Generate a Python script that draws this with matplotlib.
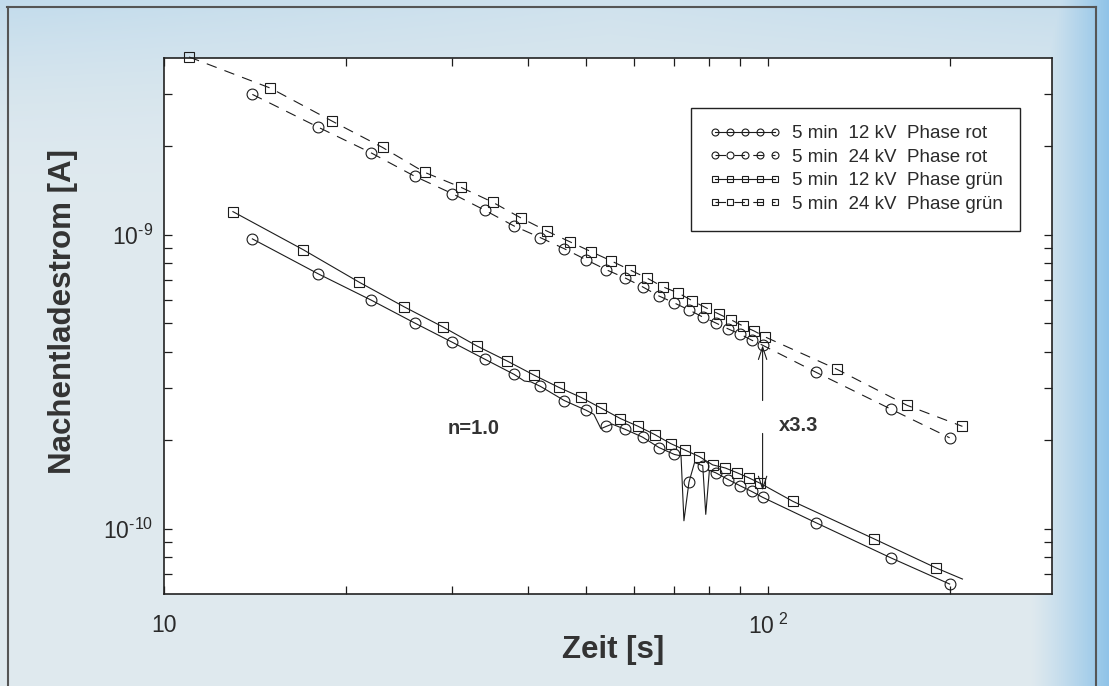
import matplotlib
matplotlib.use('Agg')
import matplotlib.pyplot as plt
import numpy as np
from matplotlib.lines import Line2D
from matplotlib.ticker import FixedLocator, FuncFormatter, NullFormatter

plt.rcParams['font.family'] = ['Liberation Sans', 'DejaVu Sans']
plt.rcParams['mathtext.fontset'] = 'custom'
plt.rcParams['mathtext.rm'] = 'Liberation Sans'
plt.rcParams['mathtext.it'] = 'Liberation Sans:italic'
plt.rcParams['mathtext.bf'] = 'Liberation Sans:bold'
plt.rcParams['mathtext.default'] = 'regular'

# --- data (time in s, current in nA) ---
# Phase rot, 24 kV (upper, dashed, circles)
t_rot24 = [14, 18, 22, 26, 30, 34, 38, 42, 46, 50, 54, 58, 62, 66, 70, 74, 78, 82, 86, 90, 94, 98, 120, 160, 200]
i_rot24 = [3.00, 2.32, 1.90, 1.58, 1.38, 1.21, 1.07, 0.977, 0.896, 0.822, 0.760, 0.713, 0.665, 0.619, 0.586,
           0.555, 0.525, 0.501, 0.478, 0.459, 0.438, 0.421, 0.341, 0.255, 0.204]

# Phase gruen, 24 kV (upper, dashed, squares)
t_gr24 = [11, 15, 19, 23, 27, 31, 35, 39, 43, 47, 51, 55, 59, 63, 67, 71, 75, 79, 83, 87, 91, 95, 99, 130, 170, 210]
i_gr24 = [4.02, 3.15, 2.43, 1.98, 1.63, 1.45, 1.29, 1.14, 1.03, 0.946, 0.875, 0.815, 0.760, 0.713, 0.665,
          0.634, 0.596, 0.564, 0.537, 0.513, 0.489, 0.470, 0.449, 0.349, 0.263, 0.223]

# Phase rot, 12 kV (lower, solid, circles)
t_rot12 = [14, 18, 22, 26, 30, 34, 38, 42, 46, 50, 54, 58, 62, 66, 70, 74, 78, 82, 86, 90, 94, 98, 120, 160, 200]
i_rot12 = [0.968, 0.736, 0.600, 0.501, 0.431, 0.377, 0.335, 0.305, 0.273, 0.253, 0.223, 0.218, 0.205, 0.189,
           0.179, 0.144, 0.164, 0.155, 0.147, 0.140, 0.134, 0.128, 0.105, 0.0796, 0.0649]
# extra trace points between markers (wiggle and the two spikes)
t_rot12_trace = [39.5, 40.5, 51.5, 52.9, 55.2, 71.8, 72.6, 75.6, 78.9, 80.0]
i_rot12_trace = [0.318, 0.316, 0.245, 0.219, 0.227, 0.177, 0.1065, 0.168, 0.112, 0.158]

# Phase gruen, 12 kV (lower, solid, squares)
t_gr12 = [13, 17, 21, 25, 29, 33, 37, 41, 45, 49, 53, 57, 61, 65, 69, 73, 77, 81, 85, 89, 93, 97, 110, 150, 190]
i_gr12 = [1.198, 0.889, 0.691, 0.568, 0.485, 0.418, 0.372, 0.333, 0.303, 0.280, 0.257, 0.237, 0.223, 0.209,
          0.195, 0.185, 0.176, 0.165, 0.161, 0.155, 0.149, 0.143, 0.124, 0.0924, 0.0736]
t_gr12_trace = [210]
i_gr12_trace = [0.0675]

labels = ['5 min  12 kV  Phase rot', '5 min  24 kV  Phase rot',
          '5 min  12 kV  Phase grün', '5 min  24 kV  Phase grün']

ink = '#1c1c1c'
dash = (0, (9.5, 7.5))


def with_trace(t, i, t_x, i_x):
    tt = np.concatenate([t, t_x])
    ii = np.concatenate([i, i_x]) * 1e-9
    mask = np.concatenate([np.ones(len(t), bool), np.zeros(len(t_x), bool)])
    order = np.argsort(tt)
    return tt[order], ii[order], mask[order]


fig = plt.figure(figsize=(11.09, 6.86), dpi=100)

# paper-like blue background
bg = fig.add_axes([0, 0, 1, 1], zorder=-10)
yy, xx = np.mgrid[0:1:343j, 0:1:555j]
light = np.array([0.875, 0.915, 0.935])
blue = np.array([0.55, 0.76, 0.91])
f_right = np.clip((xx - 0.93) / 0.07, 0, 1) ** 1.2 * 0.95
f_top = 0.32 * np.clip(1 - yy / 0.3, 0, 1) ** 2 * (0.6 + 0.4 * np.abs(xx - 0.55) / 0.45)
f = np.maximum(f_right, f_top)
img = light * (1 - f[..., None]) + blue * f[..., None]
bg.imshow(img, aspect='auto', extent=[0, 1, 0, 1])
bg.axis('off')
for xs, ys in [([0.006, 0.988], [0.99, 0.99]), ([0.007, 0.007], [0.0, 0.99]), ([0.988, 0.988], [0.0, 0.99])]:
    fig.add_artist(Line2D(xs, ys, transform=fig.transFigure, color='#555555', lw=1.5))

ax = fig.add_axes([0.148, 0.134, 0.801, 0.782])
ax.set_facecolor('white')
ax.set_xscale('log')
ax.set_yscale('log')

mk = dict(mfc='none', mec=ink, mew=0.8, color=ink, lw=0.8)
ax.plot(t_rot24, np.array(i_rot24) * 1e-9, ls=dash, marker='o', ms=7.8, **mk)
ax.plot(t_gr24, np.array(i_gr24) * 1e-9, ls=dash, marker='s', ms=6.5, clip_on=False, **mk)
tt, ii, m = with_trace(t_rot12, i_rot12, t_rot12_trace, i_rot12_trace)
ax.plot(tt, ii, ls='-', marker='o', ms=7.8, markevery=m, **mk)
tt, ii, m = with_trace(t_gr12, i_gr12, t_gr12_trace, i_gr12_trace)
ax.plot(tt, ii, ls='-', marker='s', ms=6.5, markevery=m, **mk)

ax.set_xlim(10, 296)
ax.set_ylim(6e-11, 4e-9)

# x3.3 arrow between the two 100 s points
arrow = dict(arrowstyle='->,head_length=0.9,head_width=0.3', color=ink, lw=0.8, shrinkA=0, shrinkB=0)
ax.annotate('', xy=(98, 0.421e-9), xytext=(98, 0.273e-9), arrowprops=arrow)
ax.annotate('', xy=(98, 0.135e-9), xytext=(98, 0.211e-9), arrowprops=arrow)
ax.text(112.5, 0.225e-9, 'x3.3', fontsize=14.5, fontweight='bold', color='#333333', ha='center', va='center')
ax.text(32.6, 0.219e-9, 'n=1.0', fontsize=14.5, fontweight='bold', color='#333333', ha='center', va='center')

# ticks
ax.xaxis.set_major_locator(FixedLocator([10, 100]))
ax.xaxis.set_minor_locator(FixedLocator([20, 30, 40, 50, 60, 70, 80, 90, 200]))
ax.xaxis.set_major_formatter(FuncFormatter(lambda v, p: '10' if v < 50 else r'$10^{\ 2}$'))
ax.xaxis.set_minor_formatter(NullFormatter())
ax.yaxis.set_major_locator(FixedLocator([1e-10, 1e-9]))
ax.yaxis.set_minor_locator(FixedLocator([7e-11, 8e-11, 9e-11] + [k * 1e-10 for k in range(2, 10)] + [2e-9, 3e-9]))
ax.yaxis.set_major_formatter(FuncFormatter(lambda v, p: '$10^{\u2010%d}$' % round(-np.log10(v))))
ax.yaxis.set_minor_formatter(NullFormatter())
ax.tick_params(which='both', direction='in', top=True, right=True, length=5.5, width=0.9, color=ink,
               labelsize=16.5, labelcolor='#2a2a2a')
ax.tick_params(axis='x', pad=14)
ax.tick_params(axis='y', pad=8)
for s in ax.spines.values():
    s.set_linewidth(1.2)
    s.set_color('#222222')

ax.set_xlabel('Zeit [s]', fontsize=22.5, fontweight='bold', color='#333333')
ax.xaxis.set_label_coords(0.505, -0.076)
ax.set_ylabel('Nachentladestrom [A]', fontsize=22.5, fontweight='bold', color='#333333')
ax.yaxis.set_label_coords(-0.097, 0.526)

handles = [
    Line2D([], [], ls='-', marker='o', ms=5, **mk),
    Line2D([], [], ls=dash, marker='o', ms=5, **mk),
    Line2D([], [], ls='-', marker='s', ms=4.5, **mk),
    Line2D([], [], ls=dash, marker='s', ms=4.5, **mk),
]
leg = ax.legend(handles, labels, loc='upper right', bbox_to_anchor=(0.964, 0.907), borderaxespad=0,
                numpoints=5, handlelength=3.8, handletextpad=0.6, labelspacing=0.34, borderpad=0.95,
                fontsize=13.5, fancybox=False, framealpha=1, edgecolor='#222222')
leg.get_frame().set_linewidth(1.0)
for txt in leg.get_texts():
    txt.set_color('#2a2a2a')

fig.savefig('out.png', dpi=100)
